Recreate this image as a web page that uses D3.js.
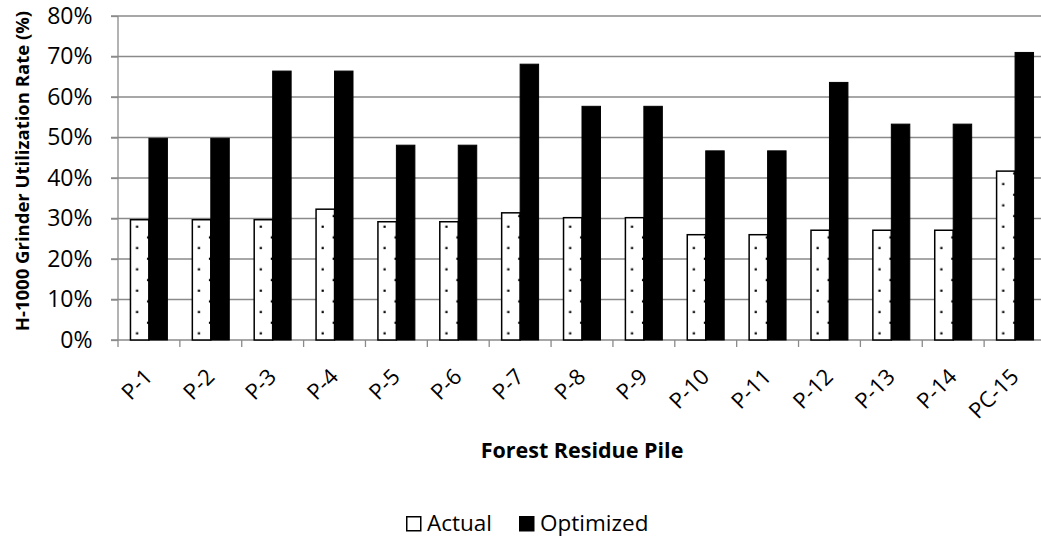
<!DOCTYPE html>
<html>
<head>
<meta charset="utf-8">
<script src="https://cdn.jsdelivr.net/npm/d3@7"></script>
<style>
  html, body { margin: 0; padding: 0; background: #fff; }
  svg { display: block; }
  text { font-family: "Open Sans", "Lato", sans-serif; fill: #000; }
</style>
</head>
<body>
<svg id="chart" width="1041" height="537"></svg>
<script>
// Forest residue piles
const categories = ["P-1","P-2","P-3","P-4","P-5","P-6","P-7","P-8","P-9","P-10","P-11","P-12","P-13","P-14","PC-15"];
// Grinder utilization rate (%)
const actual    = [29.7, 29.7, 29.7, 32.3, 29.2, 29.2, 31.4, 30.2, 30.2, 26.0, 26.0, 27.1, 27.1, 27.1, 41.7];
const optimized = [49.8, 49.8, 66.4, 66.4, 48.1, 48.1, 68.1, 57.7, 57.7, 46.7, 46.7, 63.6, 53.3, 53.3, 71.0];
const seriesNames = ["Actual", "Optimized"];
const yTicks = [0, 10, 20, 30, 40, 50, 60, 70, 80];

const svg = d3.select("#chart");
const plot = { left: 118, right: 1046, top: 16, bottom: 340 };

const x = d3.scaleBand().domain(categories).range([plot.left, plot.right]).paddingInner(0).paddingOuter(0);
const xs = d3.scaleBand().domain(seriesNames).range([0, x.bandwidth()]).paddingInner(0).paddingOuter(0.675);
const y = d3.scaleLinear().domain([0, 80]).range([plot.bottom, plot.top]);

// dotted fill for the Actual series
const defs = svg.append("defs");
const pat = defs.append("pattern")
  .attr("id", "dots").attr("patternUnits", "userSpaceOnUse")
  .attr("x", 0).attr("y", 0).attr("width", 21.33).attr("height", 21.33);
pat.append("rect").attr("width", 21.33).attr("height", 21.33).attr("fill", "#fff");
pat.append("rect").attr("x", 7.7).attr("y", 1.7).attr("width", 2.2).attr("height", 2.2).attr("fill", "#000");
pat.append("rect").attr("x", 18).attr("y", 12.3).attr("width", 2.2).attr("height", 2.2).attr("fill", "#000");

// horizontal gridlines
svg.append("g").selectAll("line").data(yTicks).join("line")
  .attr("x1", plot.left - 7).attr("x2", plot.right)
  .attr("y1", d => y(d)).attr("y2", d => y(d))
  .attr("stroke", "#8a8a8a").attr("stroke-width", 1.3);

// y axis
const yAxis = d3.axisLeft(y).tickValues(yTicks).tickFormat(d => d + "%").tickSize(7).tickPadding(18.5);
const gy = svg.append("g").attr("transform", `translate(${plot.left},0)`).call(yAxis);
gy.select(".domain").attr("stroke", "#8a8a8a").attr("stroke-width", 1.3).attr("d", `M0,${plot.top}V${plot.bottom}`);
gy.selectAll(".tick line").attr("stroke", "#8a8a8a").attr("stroke-width", 1.3);
gy.selectAll(".tick text").style("font-size", "23px").style("font-family", "'Open Sans', sans-serif").attr("fill", "#000");

// x axis ticks at category boundaries
const bounds = categories.map(c => x(c)).concat([plot.right]);
svg.append("g").selectAll("line").data(bounds).join("line")
  .attr("x1", d => d).attr("x2", d => d)
  .attr("y1", plot.bottom).attr("y2", plot.bottom + 7)
  .attr("stroke", "#8a8a8a").attr("stroke-width", 1.3);

// bars
const groups = svg.append("g").selectAll("g").data(categories).join("g")
  .attr("transform", d => `translate(${x(d)},0)`);
groups.append("rect")
  .attr("x", xs("Actual")).attr("width", xs.bandwidth())
  .attr("y", (d, i) => y(actual[i])).attr("height", (d, i) => y(0) - y(actual[i]))
  .attr("fill", "url(#dots)").attr("stroke", "#000").attr("stroke-width", 1.5);
groups.append("rect")
  .attr("x", xs("Optimized")).attr("width", xs.bandwidth())
  .attr("y", (d, i) => y(optimized[i])).attr("height", (d, i) => y(0) - y(optimized[i]))
  .attr("fill", "#000").attr("stroke", "#000").attr("stroke-width", 1);

// rotated category labels
svg.append("g").selectAll("text").data(categories).join("text")
  .attr("transform", d => `translate(${x(d) + x.bandwidth() / 2 + 5},${plot.bottom + 38}) rotate(-45)`)
  .attr("text-anchor", "end")
  .style("font-size", "22px")
  .text(d => d);

// axis titles
svg.append("text")
  .attr("transform", `translate(${29},${171}) rotate(-90)`)
  .attr("text-anchor", "middle")
  .style("font-size", "18.5px").style("font-weight", "bold")
  .text("H-1000 Grinder Utilization Rate (%)");
svg.append("text")
  .attr("x", (plot.left + plot.right) / 2).attr("y", 458)
  .attr("text-anchor", "middle")
  .style("font-size", "21.5px").style("font-weight", "bold")
  .text("Forest Residue Pile");

// legend
const legend = svg.append("g");
const legendItems = [
  { name: seriesNames[0], fill: "#fff", x: 406 },
  { name: seriesNames[1], fill: "#000", x: 519 }
];
const li = legend.selectAll("g").data(legendItems).join("g")
  .attr("transform", d => `translate(${d.x},516)`);
li.append("rect").attr("x", 0.75).attr("y", 0.75).attr("width", 14).attr("height", 14)
  .attr("fill", d => d.fill).attr("stroke", "#000").attr("stroke-width", 1.5);
li.append("text").attr("x", 21).attr("y", 15).style("font-size", "22.5px").text(d => d.name);
</script>
</body>
</html>
